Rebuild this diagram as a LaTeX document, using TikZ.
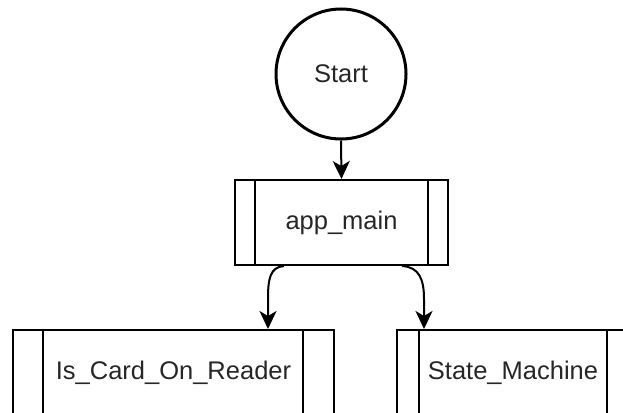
\documentclass[tikz,border=0pt]{standalone}
\usepackage{fontspec}
\setmainfont{Liberation Sans}
\usetikzlibrary{arrows.meta,calc}
\begin{document}
\begin{tikzpicture}[x=1pt,y=-1pt,
  lbl/.style={font=\fontsize{25.5}{30}\selectfont,text=black!85},
  procbox/.style={draw=black,line width=2pt,inner sep=0pt,lbl},
  startcirc/.style={draw=black,line width=3pt,circle,minimum size=130pt,inner sep=0pt,lbl},
  conn/.style={draw=black,line width=2pt,-{Stealth[length=18pt,width=17pt,inset=5pt]}},
  innerline/.style={draw=black,line width=2pt}]
\useasboundingbox (0,0) rectangle (623,412);
\clip (0,0) rectangle (623,412);
\node[startcirc] (start) at (341,74) {Start};
\node[procbox,minimum width=213pt,minimum height=85pt] (app) at (341.5,222.5) {app\_main};
\node[procbox,minimum width=321pt,minimum height=85pt] (card) at (173.5,372.5) {Is\_Card\_On\_Reader};
\node[procbox,minimum width=232pt,minimum height=85pt] (sm) at (513,372.5) {State\_Machine};
% inner lines of the process boxes
\draw[innerline] ([xshift=21pt]app.north west) -- ([xshift=21pt]app.south west);
\draw[innerline] ([xshift=-21pt]app.north east) -- ([xshift=-21pt]app.south east);
\draw[innerline] ([xshift=31pt]card.north west) -- ([xshift=31pt]card.south west);
\draw[innerline] ([xshift=-32pt]card.north east) -- ([xshift=-32pt]card.south east);
\draw[innerline] ([xshift=23pt]sm.north west) -- ([xshift=23pt]sm.south west);
\draw[innerline] ([xshift=-23pt]sm.north east) -- ([xshift=-23pt]sm.south east);
% connectors
\draw[conn] (start.south) -- (app.north);
\coordinate (a1) at ($(app.south west)+(50,0)$);
\coordinate (a2) at ($(app.south west)+(168,0)$);
\coordinate (c1) at ($(card.north west)+(256,0)$);
\coordinate (s1) at ($(sm.north west)+(28,0)$);
\draw[conn] (a1) .. controls ($(a1)+(-14,1)$) and ($(c1)+(0,-50)$) .. ($(c1)+(0,-30)$) -- (c1);
\draw[conn] (a2) .. controls ($(a2)+(17,1)$) and ($(s1)+(0,-50)$) .. ($(s1)+(0,-30)$) -- (s1);
\end{tikzpicture}
\end{document}
